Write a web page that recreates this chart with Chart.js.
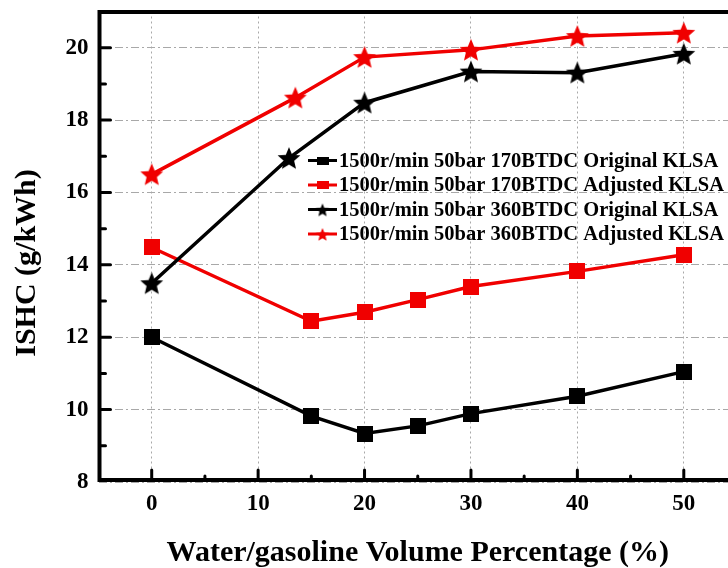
<!DOCTYPE html>
<html><head><meta charset="utf-8">
<script src="https://cdn.jsdelivr.net/npm/chart.js@4.4.0/dist/chart.umd.min.js"></script>
<style>
html,body{margin:0;padding:0;overflow:hidden;background:#fff;width:728px;height:568px}
#wrap{position:relative;width:760px;height:568px}
</style>
</head><body><div id="wrap"><canvas id="c" width="760" height="568"></canvas></div>
<script>
const FONT = "'Liberation Serif','Times New Roman',serif";
const xTitle = 'Water/gasoline Volume Percentage (%)';
const yTitle = 'ISHC (g/kWh)';
const seriesNames = [
  '1500r/min 50bar 170BTDC Original KLSA',
  '1500r/min 50bar 170BTDC Adjusted KLSA',
  '1500r/min 50bar 360BTDC Original KLSA',
  '1500r/min 50bar 360BTDC Adjusted KLSA'
];
const x170 = [0, 15, 20, 25, 30, 40, 50];
const orig170 = [12.0, 9.82, 9.34, 9.55, 9.89, 10.37, 11.05];
const adj170 = [14.48, 12.44, 12.69, 13.04, 13.40, 13.82, 14.28];
const x360Orig = [0, 12.9, 20, 30, 40, 50];
const orig360 = [13.49, 16.95, 18.48, 19.34, 19.31, 19.83];
const x360Adj = [0, 13.5, 20, 30, 40, 50];
const adj360 = [16.5, 18.62, 19.74, 19.94, 20.32, 20.41];
const xTickValues = [0, 10, 20, 30, 40, 50];
const yTickValues = [8, 10, 12, 14, 16, 18, 20];

function starCanvas(color, R, ratio) {
  const s = Math.ceil(2 * R + 2);
  const c = document.createElement('canvas'); c.width = c.height = s;
  const g = c.getContext('2d'); g.fillStyle = color; g.beginPath();
  for (let i = 0; i < 10; i++) {
    const r = i % 2 ? R * ratio : R;
    const a = -Math.PI / 2 + i * Math.PI / 5;
    const px = s / 2 + r * Math.cos(a), py = s / 2 + 1 + r * Math.sin(a);
    if (i) g.lineTo(px, py); else g.moveTo(px, py);
  }
  g.closePath(); g.fill(); return c;
}
function rectCanvas(color, w, h) {
  const c = document.createElement('canvas'); c.width = w; c.height = h;
  const g = c.getContext('2d'); g.fillStyle = color; g.fillRect(0, 0, w, h); return c;
}
const RED = '#f00000', BLACK = '#000000';
const markers = [rectCanvas(BLACK, 16, 16), rectCanvas(RED, 16, 16), starCanvas(BLACK, 12, 0.45), starCanvas(RED, 12, 0.45)];
const legendMarkers = [rectCanvas(BLACK, 12, 8), rectCanvas(RED, 12, 8), starCanvas(BLACK, 7, 0.45), starCanvas(RED, 7, 0.45)];
const colors = [BLACK, RED, BLACK, RED];

function pts(xs, ys) { return xs.map((x, i) => ({x: x, y: ys[i]})); }
const seriesData = [pts(x170, orig170), pts(x170, adj170), pts(x360Orig, orig360), pts(x360Adj, adj360)];
const orders = [2, 3, 0, 1];

const datasets = seriesData.map((d, i) => ({
  label: seriesNames[i], data: d, borderColor: colors[i], backgroundColor: colors[i],
  borderWidth: 3.5, pointStyle: markers[i], pointRadius: 8, tension: 0, order: orders[i]
}));

function isIn(v, list) { const r = Math.round(v); return Math.abs(v - r) < 1e-6 && list.includes(r); }

const framePlugin = {
  id: 'frame',
  afterDatasetsDraw(chart) {
    const {ctx, chartArea: a, scales: {x, y}} = chart;
    ctx.save();
    ctx.strokeStyle = '#000'; ctx.lineCap = 'round'; ctx.lineWidth = 3;
    for (let v = 0; v <= 55; v += 5) {
      const px = x.getPixelForValue(v);
      const len = (v % 10 === 0) ? 12 : 6;
      ctx.beginPath(); ctx.moveTo(px, a.bottom - 2); ctx.lineTo(px, a.bottom - len); ctx.stroke();
    }
    for (let v = 9; v <= 20; v += 1) {
      const py = y.getPixelForValue(v);
      const len = (v % 2 === 0) ? 12 : 7;
      ctx.beginPath(); ctx.moveTo(a.left + 1, py); ctx.lineTo(a.left + len, py); ctx.stroke();
    }
    ctx.lineCap = 'butt'; ctx.lineWidth = 4;
    ctx.strokeRect(a.left + 1, a.top + 0.5, a.right - a.left, a.bottom - a.top - 2.5);
    const lx0 = 308, lx1 = 337, ly0 = 160.5, dy = 24.5;
    ctx.font = 'bold 20.5px ' + FONT; ctx.textAlign = 'left'; ctx.textBaseline = 'middle'; ctx.fillStyle = '#000';
    seriesNames.forEach((n, i) => {
      const yy = ly0 + i * dy;
      ctx.strokeStyle = colors[i]; ctx.lineWidth = 3;
      ctx.beginPath(); ctx.moveTo(lx0, yy); ctx.lineTo(lx1, yy); ctx.stroke();
      const m = legendMarkers[i];
      ctx.drawImage(m, (lx0 + lx1) / 2 - m.width / 2, yy - m.height / 2);
      ctx.fillStyle = '#000';
      ctx.fillText(n, 339, yy + 1);
    });
    ctx.restore();
  },
  afterDraw(chart) {
    const ctx = chart.ctx;
    ctx.save();
    ctx.translate(27, 263); ctx.rotate(-Math.PI / 2);
    ctx.font = 'bold 30px ' + FONT; ctx.fillStyle = '#000';
    ctx.textAlign = 'center'; ctx.textBaseline = 'middle';
    ctx.fillText(yTitle, 0, 0);
    ctx.restore();
  }
};

new Chart(document.getElementById('c'), {
  type: 'line',
  data: {datasets: datasets},
  plugins: [framePlugin],
  options: {
    responsive: false, animation: false, devicePixelRatio: 1, events: [],
    layout: {padding: {top: 10, right: 23, left: 0, bottom: 0}},
    plugins: {legend: {display: false}, tooltip: {enabled: false}},
    scales: {
      x: {
        type: 'linear', min: -5, max: 55, position: 'bottom',
        afterFit: s => { s.height = 86; s.paddingLeft = 0; s.paddingRight = 0; },
        ticks: {stepSize: 5, autoSkip: false, maxRotation: 0, padding: 8, color: '#000',
          font: {family: FONT, size: 23, weight: 'bold'},
          callback: v => isIn(v, xTickValues) ? String(Math.round(v)) : null},
        grid: {color: '#a8a8a8', lineWidth: 1, drawTicks: false},
        border: {display: false, dash: [2, 3]},
        title: {display: true, text: xTitle, color: '#000',
          font: {family: FONT, size: 30, weight: 'bold', lineHeight: 1}, padding: {top: 0, bottom: 0}}
      },
      y: {
        type: 'linear', min: 8, max: 21, position: 'left',
        afterFit: s => { s.width = 98.5; s.paddingTop = 0; s.paddingBottom = 0; },
        ticks: {stepSize: 1, autoSkip: false, padding: 10, color: '#000',
          font: {family: FONT, size: 23, weight: 'bold'},
          callback: v => isIn(v, yTickValues) ? String(Math.round(v)) : null},
        grid: {color: '#a8a8a8', lineWidth: 1, drawTicks: false},
        border: {display: false, dash: [8, 3, 2, 3]}
      }
    }
  }
});
</script>
</body></html>
